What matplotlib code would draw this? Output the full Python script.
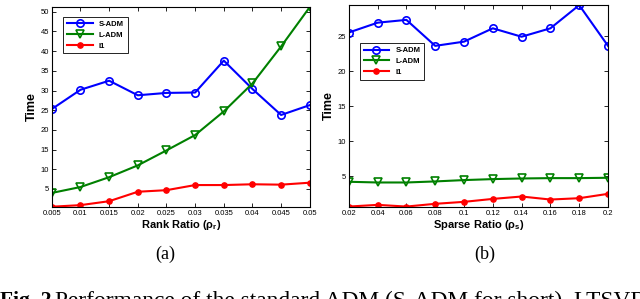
import numpy as np
import matplotlib
matplotlib.use("Agg")
import matplotlib.pyplot as plt

plt.rcParams['font.family'] = ['Liberation Sans', 'DejaVu Sans']
plt.rcParams['mathtext.fontset'] = 'custom'
plt.rcParams['mathtext.bf'] = 'Liberation Sans:bold'

# (a) time vs rank ratio
rank_ratio = [0.005, 0.01, 0.015, 0.02, 0.025, 0.03, 0.035, 0.04, 0.045, 0.05]
rank_sadm = [25.3, 30.2, 32.5, 28.8, 29.4, 29.5, 37.6, 30.4, 23.8, 26.3]
rank_ladm = [4.0, 5.5, 8.0, 11.0, 14.8, 18.7, 24.7, 31.8, 41.2, 51.2]
rank_l1 = [0.5, 0.9, 1.9, 4.3, 4.7, 6.0, 6.0, 6.2, 6.1, 6.6]
rank_xticklabels = ['0.005', '0.01', '0.015', '0.02', '0.025', '0.03', '0.035', '0.04', '0.045', '0.05']

# (b) time vs sparse ratio
sparse_ratio = [0.02, 0.04, 0.06, 0.08, 0.1, 0.12, 0.14, 0.16, 0.18, 0.2]
sparse_sadm = [25.5, 26.9, 27.3, 23.6, 24.2, 26.1, 24.9, 26.1, 29.4, 23.6]
sparse_ladm = [4.24, 4.14, 4.14, 4.29, 4.48, 4.62, 4.71, 4.76, 4.76, 4.81]
sparse_l1 = [0.71, 0.95, 0.71, 1.1, 1.38, 1.8, 2.14, 1.71, 1.9, 2.52]
sparse_xticklabels = ['0.02', '0.04', '0.06', '0.08', '0.1', '0.12', '0.14', '0.16', '0.18', '0.2']

green = (0, 0.5, 0)


def draw_panel(ax, x, s, l, r, xlabels, yticks, xlabel, leg_anchor):
    ax.plot(x, s, '-o', color='b', lw=1.5, ms=5.3, mfc='none', mew=1.2, label='S-ADM')
    ax.plot(x, l, '-v', color=green, lw=1.5, ms=5.8, mfc='none', mew=1.2, label='L-ADM')
    ax.plot(x, r, '-o', color='r', lw=1.5, ms=3.8, mfc='r', mec='r', label='l1')
    allv = s + l + r
    ax.set_xlim(x[0], x[-1])
    ax.set_ylim(min(allv) - 0.05, max(allv) + 0.05)
    ax.set_xticks(x)
    ax.set_xticklabels(xlabels)
    ax.set_yticks(yticks)
    ax.tick_params(direction='in', top=True, right=True, labelsize=5.5,
                   length=3, width=0.6, pad=2)
    for sp in ax.spines.values():
        sp.set_linewidth(0.8)
    ax.set_xlabel(xlabel, fontsize=8, fontweight='bold', labelpad=1)
    ax.set_ylabel('Time', fontsize=9, fontweight='bold', labelpad=2)
    leg = ax.legend(loc='upper left', bbox_to_anchor=leg_anchor,
                    prop={'weight': 'bold', 'size': 5.5}, fancybox=False,
                    edgecolor='black', framealpha=1, borderpad=0.5,
                    handlelength=3.4, labelspacing=0.45, borderaxespad=0,
                    numpoints=1)
    leg.get_frame().set_linewidth(0.6)


fig = plt.figure(figsize=(6.4, 2.99), dpi=100)
ax1 = fig.add_axes([0.081, 0.308, 0.403, 0.669])
ax2 = fig.add_axes([0.545, 0.308, 0.405, 0.676])

draw_panel(ax1, rank_ratio, rank_sadm, rank_ladm, rank_l1, rank_xticklabels,
           [5, 10, 15, 20, 25, 30, 35, 40, 45, 50],
           r'Rank Ratio (ρ$_\mathbf{r}$)', (0.043, 0.95))
draw_panel(ax2, sparse_ratio, sparse_sadm, sparse_ladm, sparse_l1, sparse_xticklabels,
           [5, 10, 15, 20, 25],
           r'Sparse Ratio (ρ$_\mathbf{s}$)', (0.042, 0.81))

fig.text(0.258, 0.148, '(a)', family='Liberation Serif', fontsize=13, ha='center', va='center')
fig.text(0.758, 0.148, '(b)', family='Liberation Serif', fontsize=13, ha='center', va='center')

# caption, cut by the bottom edge as in the source
fig.text(0.0, 0.026, 'Fig. 2.', family='Liberation Serif', fontsize=15.5,
         fontweight='bold', ha='left', va='top')
fig.text(0.086, 0.026, 'Performance of the standard ADM (S-ADM for short), LTSVD',
         family='Liberation Serif', fontsize=16.8, ha='left', va='top')

fig.savefig('out.png', dpi=100)
